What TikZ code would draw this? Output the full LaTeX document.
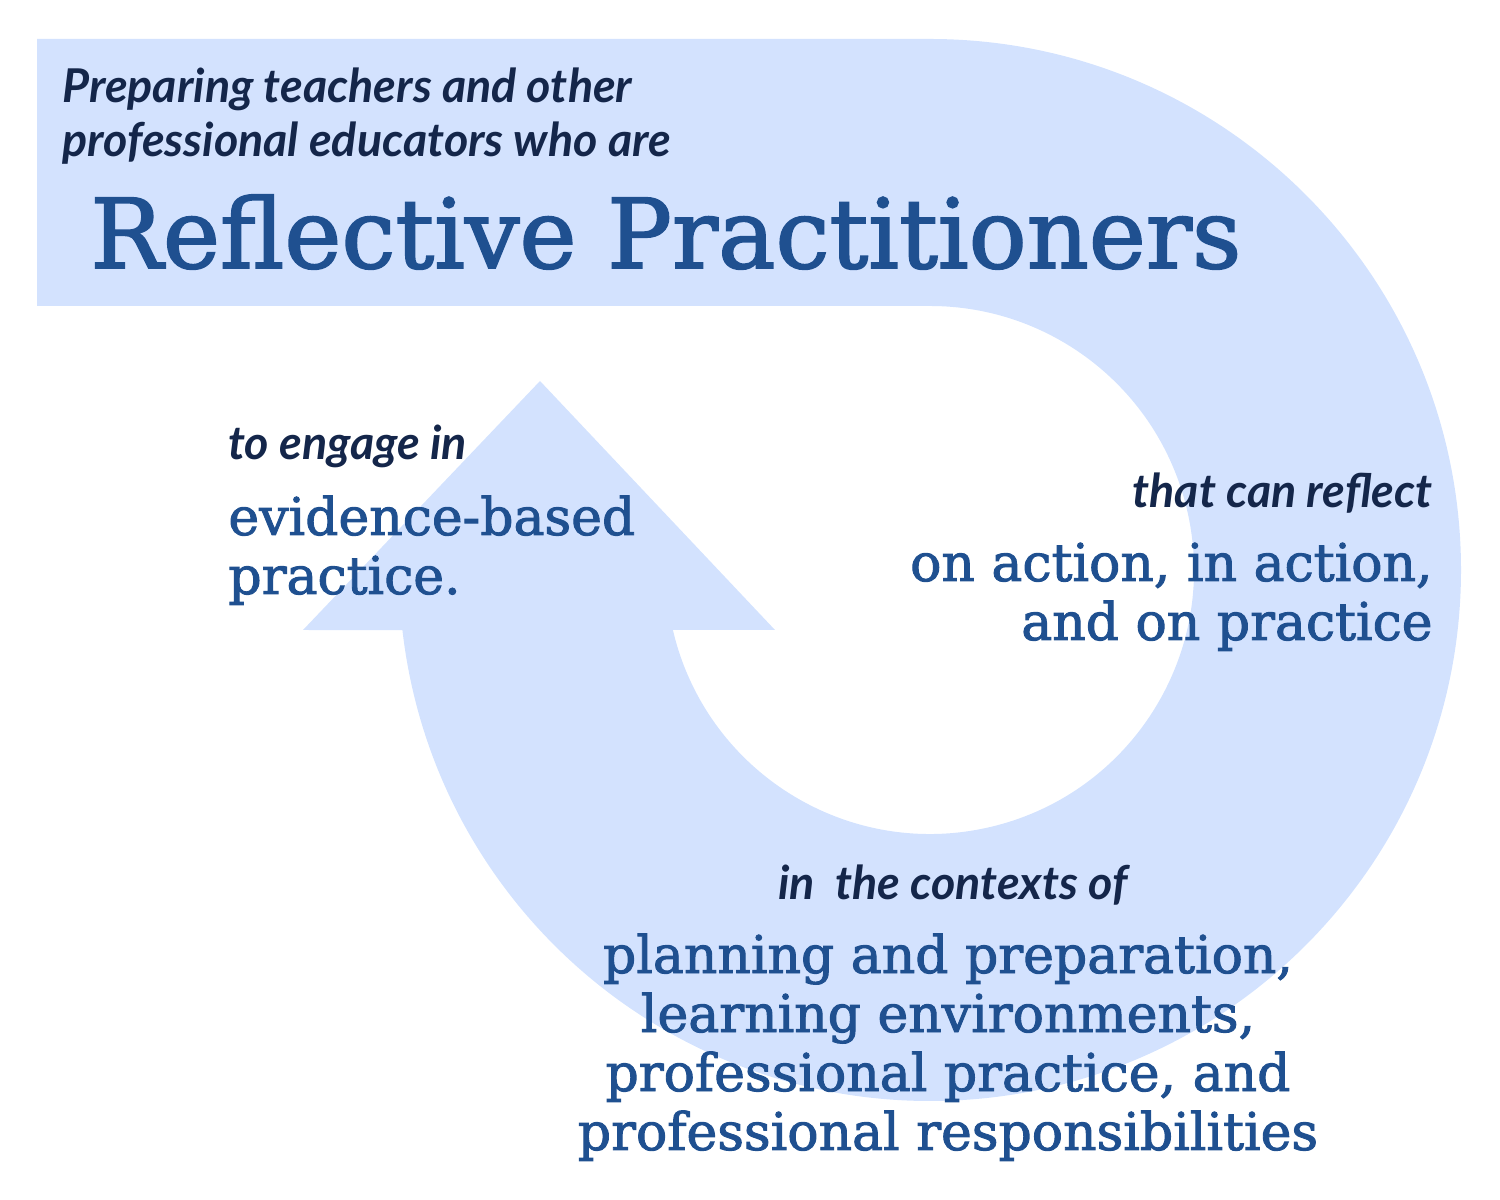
\documentclass[tikz,border=0pt]{standalone}
\usepackage{fontspec}
\newfontfamily\sansfnt{Lato}
\newfontfamily\seriffnt{DejaVu Serif}[FakeBold=1.8]
\definecolor{ringblue}{HTML}{D3E2FE}
\definecolor{navy}{HTML}{14264A}
\definecolor{textblue}{HTML}{1F5090}
\begin{document}
\begin{tikzpicture}[x=0.5pt,y=0.5pt,
  lead/.style={font=\sansfnt\bfseries\itshape\fontsize{23.3}{27}\selectfont, text=navy, inner sep=0pt},
  body/.style={font=\seriffnt\fontsize{26}{29.5}\selectfont, text=textblue, inner sep=0pt},
  headline/.style={font=\seriffnt\fontsize{48.2}{50}\selectfont, text=textblue, inner sep=0pt},
]
\useasboundingbox (0,0) rectangle (1500,1200);
\fill[ringblue] (37,1161) -- (930,1161) arc[start angle=90,end angle=-173.5,radius=531]
  -- (303,570) -- (540,819) -- (775,570) -- (672.9,570)
  arc[start angle=-166.86,end angle=90,radius=264] -- (37,894) -- cycle;
\node[lead, anchor=base west, align=left] (intro) at (62,1043) {Preparing teachers and other\\professional educators who are};
\node[headline, anchor=base west] (title) at (90,932) {Reflective Practitioners};
\node[lead, anchor=base west] (engage) at (228,740) {to engage in};
\node[body, anchor=base west, align=left] (ebp) at (228,606) {evidence-based\\practice.};
\node[lead, anchor=base east] (reflect) at (1433,692) {that can reflect};
\node[body, anchor=base east, align=right] (onaction) at (1433,560) {on action, in action,\\and on practice};
\node[lead, anchor=base west] (contexts) at (778,300) {in\ \ the contexts of};
\node[body, anchor=base, align=center] (plan) at (948,50) {planning and preparation,\\learning environments,\\professional practice, and\\professional responsibilities};
\end{tikzpicture}
\end{document}
